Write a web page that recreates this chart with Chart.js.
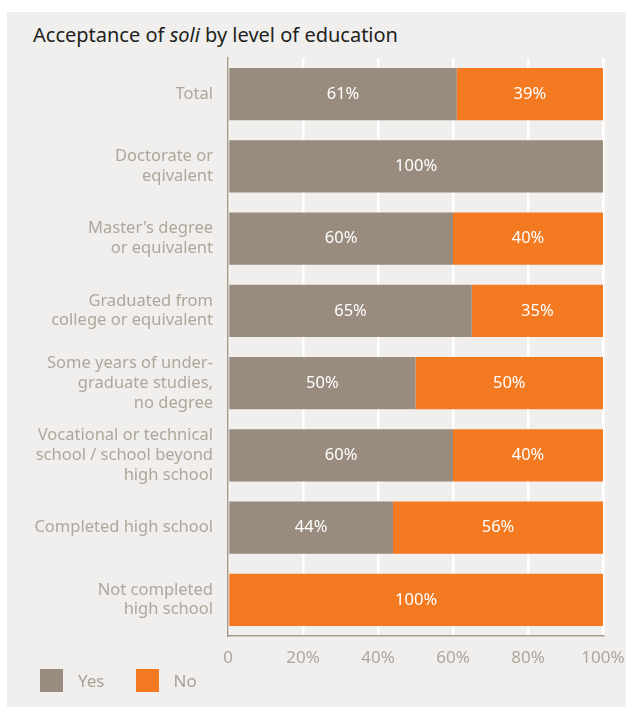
<!DOCTYPE html>
<html>
<head>
<meta charset="utf-8">
<script src="https://cdn.jsdelivr.net/npm/chart.js@4/dist/chart.umd.min.js"></script>
<style>
  html, body { margin: 0; padding: 0; background: #ffffff; }
  body { width: 626px; height: 707px; position: relative; overflow: hidden; font-family: "Noto Sans", sans-serif; }
  #panel { position: absolute; left: 7px; top: 12px; width: 619px; height: 695px; background: #f0efed; }
  #title { position: absolute; left: 33px; top: 21px; font-size: 20px; color: #231f20; white-space: nowrap; }
  #wrap { position: absolute; left: 0; top: 0; width: 626px; height: 707px; }
  #legend { position: absolute; left: 40px; top: 669px; height: 23px; display: flex; align-items: center; font-size: 17px; color: #aaa096; }
  .sw { width: 23px; height: 23px; display: inline-block; }
  .lab { display: inline-block; margin-left: 15px; margin-right: 31px; }
</style>
</head>
<body>
<div id="panel"></div>
<div id="title">Acceptance of <i>soli</i> by level of education</div>
<div id="wrap"><canvas id="c" width="626" height="707"></canvas></div>
<div id="legend"></div>
<script>
// Education levels (multi-line labels as drawn on the axis)
const categories = [
  ["Total"],
  ["Doctorate or", "eqivalent"],
  ["Master's degree", "or equivalent"],
  ["Graduated from", "college or equivalent"],
  ["Some years of under-", "graduate studies,", "no degree"],
  ["Vocational or technical", "school / school beyond", "high school"],
  ["Completed high school"],
  ["Not completed", "high school"]
];
// Share of respondents accepting / not accepting soli (%)
const yesValues = [61, 100, 60, 65, 50, 60, 44, 0];
const noValues  = [39, 0, 40, 35, 50, 40, 56, 100];
const seriesNames = ["Yes", "No"];
const seriesColors = ["#998b7e", "#f47a22"];
const xTicks = [0, 20, 40, 60, 80, 100];

const labelColor = "#b0a69b";
const axisColor = "#a89b8e";

// In-bar percentage labels
const valueLabels = {
  id: "valueLabels",
  afterDatasetsDraw(chart) {
    const ctx = chart.ctx;
    ctx.save();
    ctx.fillStyle = "#ffffff";
    ctx.font = "16.5px 'Noto Sans'";
    ctx.textAlign = "center";
    ctx.textBaseline = "middle";
    chart.data.datasets.forEach((ds, di) => {
      const meta = chart.getDatasetMeta(di);
      meta.data.forEach((el, i) => {
        const v = ds.data[i];
        if (!v) return;
        const cx = (el.x + el.base) / 2;
        ctx.fillText(v + "%", cx, el.y);
      });
    });
    ctx.restore();
  }
};

new Chart(document.getElementById("c"), {
  type: "bar",
  data: {
    labels: categories,
    datasets: [
      { label: seriesNames[0], data: yesValues, backgroundColor: seriesColors[0] },
      { label: seriesNames[1], data: noValues, backgroundColor: seriesColors[1] }
    ]
  },
  options: {
    indexAxis: "y",
    responsive: false,
    animation: false,
    devicePixelRatio: 1,
    layout: { padding: { top: 58, right: 23, left: 0, bottom: 0 } },
    datasets: { bar: { barPercentage: 1, categoryPercentage: 0.72 } },
    plugins: { legend: { display: false }, title: { display: false }, tooltip: { enabled: false } },
    scales: {
      x: {
        stacked: true,
        min: 0,
        max: 100,
        afterBuildTicks(scale) { scale.ticks = xTicks.map(v => ({ value: v })); },
        afterFit(scale) { scale.height = 71; scale.paddingRight = 0; scale.paddingLeft = 0; },
        grid: { color: "#ffffff", lineWidth: 2.5, drawTicks: false },
        border: { display: true, color: axisColor, width: 1.5 },
        ticks: {
          padding: 12,
          color: labelColor,
          font: { family: "Noto Sans", size: 17 },
          callback: v => v === 0 ? "0" : v + "%"
        }
      },
      y: {
        stacked: true,
        afterFit(scale) { scale.width = 228; },
        grid: { display: false, drawTicks: false },
        border: { display: true, color: axisColor, width: 1.5 },
        ticks: {
          padding: 15,
          color: labelColor,
          font: { family: "Noto Sans", size: 16.5, lineHeight: 1.2 }
        }
      }
    }
  },
  plugins: [valueLabels]
});

// Legend built from the series names and colours
const legend = document.getElementById("legend");
seriesNames.forEach((name, i) => {
  const sw = document.createElement("span");
  sw.className = "sw";
  sw.style.background = seriesColors[i];
  const t = document.createElement("span");
  t.className = "lab";
  t.textContent = name;
  legend.appendChild(sw);
  legend.appendChild(t);
});
</script>
</body>
</html>
